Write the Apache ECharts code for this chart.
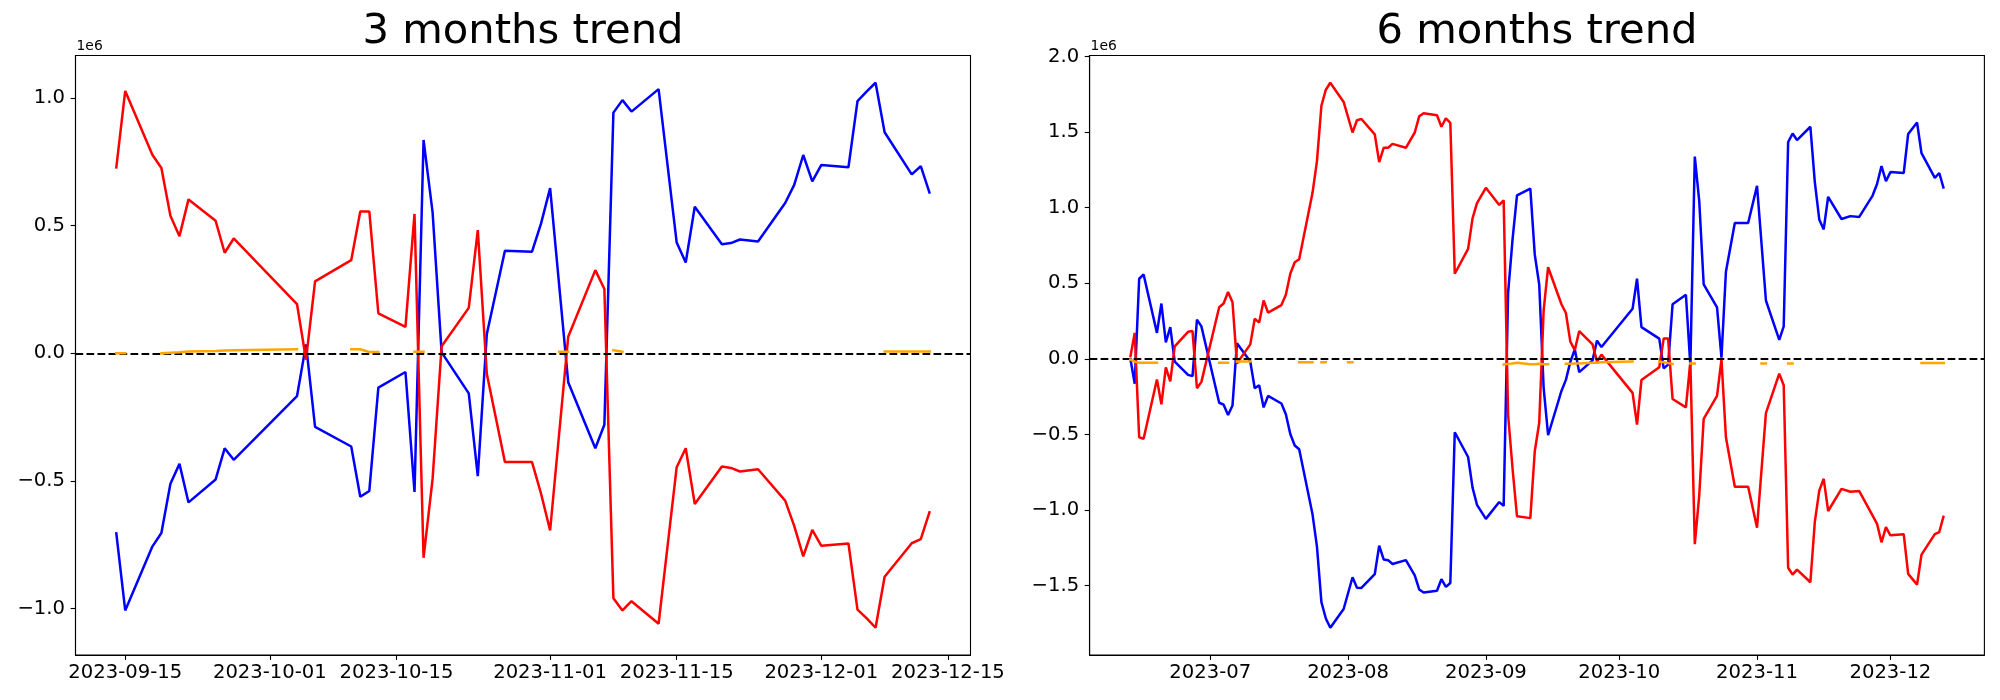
<!DOCTYPE html>
<html><head><meta charset="utf-8">
<script src="https://cdn.jsdelivr.net/npm/echarts@6/dist/echarts.min.js"></script>
<style>html,body{margin:0;padding:0;background:#fff}#c{width:2000px;height:700px}</style>
</head><body><div id="c"></div>
<script>
// ---------- 3 months (values in units of 1e6) ----------
const dates3 = ['2023-09-14','2023-09-15','2023-09-18','2023-09-19','2023-09-20','2023-09-21','2023-09-22',
'2023-09-25','2023-09-26','2023-09-27','2023-10-04','2023-10-05','2023-10-06','2023-10-10','2023-10-11',
'2023-10-12','2023-10-13','2023-10-16','2023-10-17','2023-10-18','2023-10-19','2023-10-20','2023-10-23',
'2023-10-24','2023-10-25','2023-10-27','2023-10-30','2023-10-31','2023-11-01','2023-11-03','2023-11-06',
'2023-11-07','2023-11-08','2023-11-09','2023-11-10','2023-11-13','2023-11-15','2023-11-16','2023-11-17',
'2023-11-20','2023-11-21','2023-11-22','2023-11-24','2023-11-27','2023-11-28','2023-11-29','2023-11-30',
'2023-12-01','2023-12-04','2023-12-05','2023-12-06','2023-12-07','2023-12-08','2023-12-11','2023-12-12','2023-12-13'];
const blue3 = [-0.700,-1.007,-0.757,-0.704,-0.511,-0.433,-0.584,
-0.494,-0.372,-0.417,-0.168,0.035,-0.288,-0.365,-0.562,
-0.539,-0.134,-0.073,-0.543,0.836,0.552,0.004,-0.157,
-0.481,0.076,0.402,0.398,0.509,0.647,-0.113,-0.372,
-0.280,0.943,0.992,0.947,1.035,0.434,0.356,0.574,
0.427,0.432,0.446,0.438,0.589,0.660,0.777,0.674,
0.738,0.729,0.988,1.025,1.060,0.866,0.701,0.733,0.626];
const red3 = [0.724,1.028,0.778,0.726,0.539,0.459,0.603,
0.519,0.394,0.450,0.193,-0.025,0.282,0.365,0.556,
0.556,0.157,0.104,0.546,-0.801,-0.492,0.028,0.178,
0.483,-0.081,-0.426,-0.426,-0.550,-0.694,0.065,0.326,
0.252,-0.959,-1.007,-0.971,-1.059,-0.446,-0.372,-0.590,
-0.443,-0.449,-0.463,-0.454,-0.577,-0.676,-0.795,-0.692,
-0.754,-0.745,-1.004,-1.037,-1.075,-0.875,-0.744,-0.728,-0.618];
const orangeDates3 = ['2023-09-14','2023-09-15','2023-09-18','2023-09-19','2023-09-20','2023-09-21','2023-09-22',
'2023-09-25','2023-09-26','2023-09-27','2023-10-04','2023-10-05','2023-10-10','2023-10-11','2023-10-12',
'2023-10-13','2023-10-16','2023-10-17','2023-10-18','2023-10-19','2023-11-02','2023-11-03','2023-11-06',
'2023-11-08','2023-11-09','2023-11-10','2023-12-08','2023-12-11','2023-12-12','2023-12-13'];
const orange3 = [0.000,0.000,null,0.000,0.002,0.004,0.007,
0.009,0.011,0.012,0.016,null,0.016,0.016,0.005,
0.005,null,0.006,0.006,null,0.006,0.006,null,
0.012,0.006,null,0.007,0.007,0.007,0.007];

// ---------- 6 months (values in units of 1e6) ----------
const dates6 = ['2023-06-13','2023-06-14','2023-06-15','2023-06-16','2023-06-19','2023-06-20','2023-06-21',
'2023-06-22','2023-06-23','2023-06-26','2023-06-27','2023-06-28','2023-06-29','2023-07-03','2023-07-04',
'2023-07-05','2023-07-06','2023-07-07','2023-07-10','2023-07-11','2023-07-12','2023-07-13','2023-07-14',
'2023-07-17','2023-07-18','2023-07-19','2023-07-20','2023-07-21','2023-07-24','2023-07-25','2023-07-26',
'2023-07-27','2023-07-28','2023-07-31','2023-08-02','2023-08-03','2023-08-04','2023-08-07','2023-08-08',
'2023-08-09','2023-08-10','2023-08-11','2023-08-14','2023-08-16','2023-08-17','2023-08-18','2023-08-21',
'2023-08-22','2023-08-23','2023-08-24','2023-08-25','2023-08-28','2023-08-29','2023-08-30','2023-09-01',
'2023-09-04','2023-09-05','2023-09-06','2023-09-07','2023-09-08','2023-09-11','2023-09-12','2023-09-13',
'2023-09-14','2023-09-15','2023-09-18','2023-09-19','2023-09-20','2023-09-21','2023-09-22','2023-09-25',
'2023-09-26','2023-09-27','2023-10-04','2023-10-05','2023-10-06','2023-10-10','2023-10-11','2023-10-12',
'2023-10-13','2023-10-16','2023-10-17','2023-10-18','2023-10-19','2023-10-20','2023-10-23','2023-10-24',
'2023-10-25','2023-10-27','2023-10-30','2023-11-01','2023-11-03','2023-11-06','2023-11-07','2023-11-08',
'2023-11-09','2023-11-10','2023-11-13','2023-11-14','2023-11-15','2023-11-16','2023-11-17','2023-11-20',
'2023-11-22','2023-11-24','2023-11-27','2023-11-28','2023-11-29','2023-11-30','2023-12-01','2023-12-04',
'2023-12-05','2023-12-07','2023-12-08','2023-12-11','2023-12-12','2023-12-13'];
const blue6 = [0.005,-0.164,0.530,0.558,0.172,0.366,0.109,
0.210,-0.018,-0.106,-0.114,0.260,0.215,-0.290,-0.303,
-0.371,-0.308,0.104,-0.018,-0.194,-0.174,-0.321,-0.245,
-0.295,-0.366,-0.497,-0.573,-0.598,-1.028,-1.242,-1.609,
-1.717,-1.778,-1.654,-1.444,-1.513,-1.515,-1.424,-1.235,
-1.326,-1.331,-1.356,-1.331,-1.432,-1.525,-1.545,-1.533,
-1.457,-1.508,-1.482,-0.485,-0.649,-0.851,-0.965,-1.058,
-0.947,-0.972,0.437,0.790,1.081,1.126,0.689,0.492,
-0.194,-0.505,-0.212,-0.139,-0.020,0.063,-0.088,-0.010,
0.121,0.078,0.331,0.530,0.210,0.134,-0.063,-0.038,
0.361,0.424,-0.043,1.338,1.043,0.492,0.341,0.008,
0.576,0.899,0.899,1.144,0.386,0.126,0.215,1.434,
1.490,1.447,1.535,1.169,0.922,0.856,1.072,0.925,
0.944,0.939,1.080,1.156,1.275,1.175,1.235,1.229,
1.487,1.563,1.360,1.197,1.229,1.126];
const red6 = [0.010,0.172,-0.518,-0.528,-0.136,-0.300,-0.056,
-0.149,0.083,0.179,0.184,-0.194,-0.152,0.341,0.366,
0.442,0.374,-0.030,0.096,0.265,0.240,0.386,0.306,
0.356,0.424,0.563,0.639,0.659,1.098,1.308,1.674,
1.780,1.826,1.699,1.497,1.578,1.586,1.485,1.301,
1.396,1.396,1.422,1.396,1.497,1.604,1.624,1.611,
1.535,1.591,1.561,0.563,0.727,0.929,1.030,1.131,
1.018,1.048,-0.371,-0.725,-1.040,-1.053,-0.611,-0.422,
0.323,0.606,0.361,0.303,0.114,0.058,0.184,0.096,
-0.018,0.028,-0.225,-0.434,-0.139,-0.056,0.134,0.134,
-0.265,-0.321,-0.018,-1.225,-0.902,-0.396,-0.245,-0.005,
-0.518,-0.846,-0.846,-1.116,-0.359,-0.098,-0.174,-1.381,
-1.427,-1.394,-1.477,-1.078,-0.871,-0.793,-1.006,-0.860,
-0.879,-0.874,-1.037,-1.091,-1.213,-1.113,-1.167,-1.159,
-1.422,-1.493,-1.294,-1.159,-1.145,-1.037];
const orangeDates6 = ['2023-06-13','2023-06-14','2023-06-15','2023-06-16','2023-06-19','2023-06-20',
'2023-07-03','2023-07-04','2023-07-05','2023-07-06','2023-07-07','2023-07-10','2023-07-11',
'2023-07-21','2023-07-24','2023-07-25','2023-07-26','2023-07-27','2023-07-28','2023-08-01','2023-08-02','2023-08-03',
'2023-09-05','2023-09-06','2023-09-07','2023-09-08','2023-09-11','2023-09-12','2023-09-13','2023-09-14','2023-09-15','2023-09-18',
'2023-09-19','2023-09-20','2023-09-21','2023-09-22','2023-09-25','2023-09-26','2023-09-27','2023-10-04','2023-10-05',
'2023-10-10','2023-10-11','2023-10-12','2023-10-13','2023-10-16','2023-10-17','2023-10-18','2023-10-19',
'2023-11-02','2023-11-03','2023-11-06','2023-11-08','2023-11-09','2023-11-10',
'2023-12-08','2023-12-11','2023-12-12','2023-12-13'];
const orange6 = [-0.005,-0.018,-0.025,-0.025,-0.025,null,
-0.025,-0.025,-0.025,null,-0.018,-0.018,null,
-0.023,-0.023,null,-0.023,-0.023,null,-0.023,-0.023,null,
-0.037,-0.033,-0.030,-0.025,-0.036,-0.035,-0.033,-0.035,-0.035,null,
-0.033,-0.033,-0.030,-0.030,-0.026,-0.025,-0.022,-0.018,null,
-0.018,-0.022,-0.028,-0.033,null,-0.030,-0.030,null,
-0.030,-0.030,null,-0.030,-0.030,null,
-0.027,-0.027,-0.027,-0.027];

// ---------- ticks & texts ----------
const xTickLabels3 = ['2023-09-15','2023-10-01','2023-10-15','2023-11-01','2023-11-15','2023-12-01','2023-12-15'];
const xTickLabels6 = ['2023-07','2023-08','2023-09','2023-10','2023-11','2023-12'];
const yTicks3 = [-1.0,-0.5,0.0,0.5,1.0];
const yTicks6 = [-1.5,-1.0,-0.5,0.0,0.5,1.0,1.5,2.0];
const titles = ['3 months trend','6 months trend'];
const offsetText = '1e6';

// ---------- build ----------
function ts(s){const p=s.split('-').map(Number);return Date.UTC(p[0],p[1]-1,p[2]||1);}
function pairs(d,v){return d.map((x,i)=>[ts(x), v[i]===null?'-':v[i]]);}
const FONT='"DejaVu Sans"';
const LW=2.5;
const grids=[{left:75.5,top:55.5,width:895,height:599.5},{left:1089.6,top:55.5,width:894.8,height:599.5}];

function xRange(d){const a=ts(d[0]),b=ts(d[d.length-1]);const m=(b-a)*0.05;return [a-m,b+m];}
function yRange(arrs){let lo=Infinity,hi=-Infinity;arrs.forEach(a=>a.forEach(v=>{if(v!==null){lo=Math.min(lo,v);hi=Math.max(hi,v);}}));const m=(hi-lo)*0.05;return [lo-m,hi+m];}

const panels=[
 {dates:dates3,blue:blue3,red:red3,od:orangeDates3,o:orange3,xt:xTickLabels3,yt:yTicks3},
 {dates:dates6,blue:blue6,red:red6,od:orangeDates6,o:orange6,xt:xTickLabels6,yt:yTicks6}
];
const xAxes=[],yAxes=[],series=[],graphics=[];
panels.forEach((p,i)=>{
  const xr=xRange(p.dates), yr=yRange([p.blue,p.red,p.o]);
  const xv=p.xt.map(ts); const lm={}; xv.forEach((v,k)=>lm[v]=p.xt[k]);
  xAxes.push({type:'value',gridIndex:i,min:xr[0],max:xr[1],splitLine:{show:false},
    axisLine:{show:true,onZero:false,lineStyle:{color:'#000',width:1.1}},
    axisTick:{show:true,customValues:xv,length:4.9,lineStyle:{color:'#000',width:1.1}},
    axisLabel:{customValues:xv,formatter:v=>lm[v]||'',color:'#000',fontFamily:FONT,fontSize:19.6,margin:8,showMinLabel:true,showMaxLabel:true}});
  yAxes.push({type:'value',gridIndex:i,min:yr[0],max:yr[1],splitLine:{show:false},
    axisLine:{show:true,onZero:false,lineStyle:{color:'#000',width:1.1}},
    axisTick:{show:true,customValues:p.yt,length:4.9,lineStyle:{color:'#000',width:1.1}},
    axisLabel:{customValues:p.yt,formatter:v=>(v<-1e-9?'\u2212':'')+Math.abs(v).toFixed(1),color:'#000',fontFamily:FONT,fontSize:19.6,margin:10.5}});
  const base={type:'line',xAxisIndex:i,yAxisIndex:i,showSymbol:false,symbol:'none',animation:false,silent:true};
  series.push(Object.assign({},base,{name:'blue'+i,data:pairs(p.dates,p.blue),connectNulls:true,lineStyle:{color:'#0000ff',width:LW},z:2}));
  series.push(Object.assign({},base,{name:'red'+i,data:pairs(p.dates,p.red),connectNulls:true,lineStyle:{color:'#ff0000',width:LW},z:3,
    markLine:{silent:true,symbol:['none','none'],label:{show:false},animation:false,
      lineStyle:{color:'#000',type:[7.7,3.3],width:2.1},emphasis:{disabled:true},data:[{yAxis:0}]}}));
  series.push(Object.assign({},base,{name:'orange'+i,data:pairs(p.od,p.o),connectNulls:false,lineStyle:{color:'#ffa500',width:LW,cap:'square'},z:5}));
  const g=grids[i];
  graphics.push({type:'text',x:g.left+g.width/2,y:32,style:{text:titles[i],font:'41.7px '+FONT,fill:'#000',textAlign:'center',textVerticalAlign:'middle',align:'center',verticalAlign:'middle'}});
  graphics.push({type:'text',x:g.left+1,y:46,style:{text:offsetText,font:'13.9px '+FONT,fill:'#000',textAlign:'left',textVerticalAlign:'middle',align:'left',verticalAlign:'middle'}});
});

const chart=echarts.init(document.getElementById('c'),null,{renderer:'canvas'});
chart.setOption({
  animation:false,backgroundColor:'#fff',
  grid:grids.map(g=>Object.assign({show:true,borderColor:'#000',borderWidth:1.1,backgroundColor:'transparent'},g)),
  xAxis:xAxes,yAxis:yAxes,series:series,graphic:graphics
});
</script></body></html>
